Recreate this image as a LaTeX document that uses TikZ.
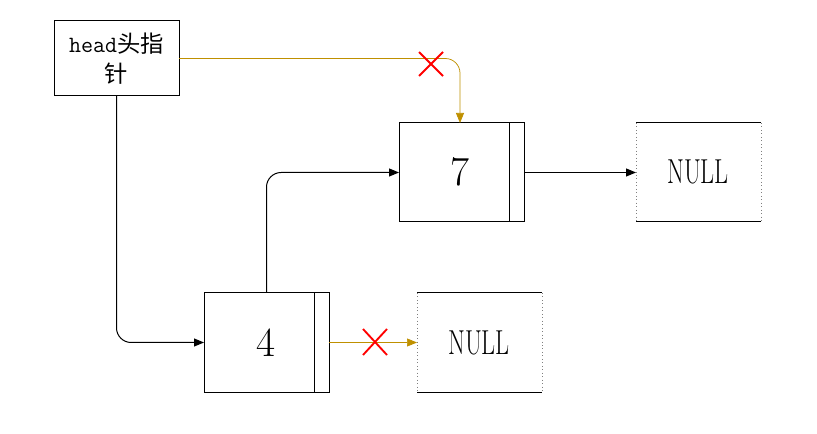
\documentclass[tikz,border=0pt]{standalone}
\usepackage{fontspec}
\newfontfamily\cjk{Noto Sans CJK SC}
\usetikzlibrary{arrows.meta,calc}
\definecolor{gold}{HTML}{BF9000}
\tikzset{
  every node/.style={inner sep=0pt, outer sep=0pt},
  nodebox/.style={draw=black, line width=0.75pt, minimum width=93.75pt, minimum height=74.25pt},
  nullbox/.style={minimum width=93.75pt, minimum height=74.25pt},
  conn/.style={line width=0.75pt, -{Triangle[length=7.5pt,width=6pt]}, rounded corners=11pt},
  goldconn/.style={conn, draw=gold, line width=0.55pt, -{Triangle[length=7.5pt,width=6pt,fill=gold]}},
  cross/.style={draw=red, line width=1.4pt},
}
\begin{document}
\begin{tikzpicture}[x=0.75pt,y=-0.75pt]
\useasboundingbox (0,0) rectangle (817,434);
% head box
\node[draw=black, line width=0.75pt, minimum width=93.75pt, minimum height=56.25pt, align=center,
  font=\fontsize{17.5}{22}\selectfont] (head) at (116.5,58.5) {\ttfamily head\cjk 头指\\\cjk 针};
% node 7
\node[nodebox] (n7) at (461.5,172.5) {};
\draw[line width=0.75pt] (509,123) -- (509,222);
\node[font=\fontsize{31}{31}\selectfont] (t7) at (460,172) {7};
% NULL 1
\node[nullbox] (null1) at (698.5,172.5) {};
\draw[line width=0.75pt] (null1.north west) -- (null1.north east) (null1.south west) -- (null1.south east);
\draw[gray, dotted, line width=0.6pt] (null1.north west) -- (null1.south west) (null1.north east) -- (null1.south east);
\node[font=\fontsize{26}{26}\selectfont] (tn1) at (698,172) {\scalebox{0.7}[1]{NULL}};
% node 4
\node[nodebox] (n4) at (266.5,342.5) {};
\draw[line width=0.75pt] (314,293) -- (314,392);
\node[font=\fontsize{31}{31}\selectfont] (t4) at (266,343) {4};
% NULL 2
\node[nullbox] (null2) at (479.5,342.5) {};
\draw[line width=0.75pt] (null2.north west) -- (null2.north east) (null2.south west) -- (null2.south east);
\draw[gray, dotted, line width=0.6pt] (null2.north west) -- (null2.south west) (null2.north east) -- (null2.south east);
\node[font=\fontsize{26}{26}\selectfont] (tn2) at (479,343) {\scalebox{0.7}[1]{NULL}};
% connectors
\draw[conn] (head.south) |- (n4.west);
\draw[conn] (n4.north) |- (n7.west);
\draw[conn] (n7.east) -- (null1.west);
\draw[goldconn] (head.east) -| (n7.north -| 460,0);
\draw[goldconn] (n4.east) -- (null2.west);
% crosses
\coordinate (c1) at (431,64);
\draw[cross] ($(c1)+(-12,-12)$) -- ($(c1)+(12,12)$) ($(c1)+(-12,12)$) -- ($(c1)+(12,-12)$);
\coordinate (c2) at (375,342);
\draw[cross] ($(c2)+(-12,-13)$) -- ($(c2)+(12,13)$) ($(c2)+(-12,13)$) -- ($(c2)+(12,-13)$);
\end{tikzpicture}
\end{document}
